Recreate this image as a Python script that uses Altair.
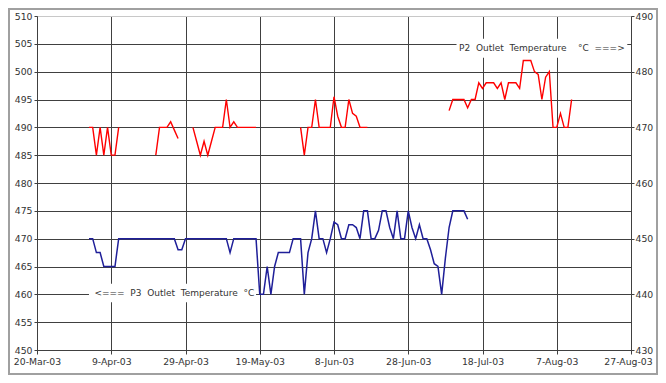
import altair as alt
import pandas as pd

# ---------------- data ----------------
tick_dates = ["2003-03-20", "2003-04-09", "2003-04-29", "2003-05-19", "2003-06-08",
              "2003-06-28", "2003-07-18", "2003-08-07", "2003-08-27"]
left_ticks = [450, 455, 460, 465, 470, 475, 480, 485, 490, 495, 500, 505, 510]
right_ticks = [430, 440, 450, 460, 470, 480, 490]

# P3 outlet temperature (left axis), daily from 3-Apr-03
p3_start = "2003-04-03"
p3_values = [
    470, 470, 467.5, 467.5, 465, 465, 465, 465, 470, 470,
    470, 470, 470, 470, 470, 470, 470, 470, 470, 470,
    470, 470, 470, 470, 468, 468, 470, 470, 470, 470,
    470, 470, 470, 470, 470, 470, 470, 470, 467.5, 470,
    470, 470, 470, 470, 470, 470, 460, 460, 465, 460,
    465, 467.5, 467.5, 467.5, 467.5, 470, 470, 470, 460, 467.5,
    470, 475, 470, 470, 467.5, 470, 473, 472.5, 470, 470,
    472.5, 472.5, 472, 470, 475, 475, 470, 470, 471.5, 475,
    475, 472, 470, 475, 470, 470, 475, 472, 470, 472.5,
    470, 470, 468, 465.5, 465, 460, 466.5, 472, 475, 475,
    475, 475, 473.5,
]

# P2 outlet temperature (right axis), daily segments
p2_starts = ["2003-04-03", "2003-04-21", "2003-05-01", "2003-05-30", "2003-07-09"]
p2_seg1 = [470, 470, 465, 470, 465, 470, 465, 465, 470]
p2_seg2 = [465, 470, 470, 470, 471, 469.5, 468]
p2_seg3 = [470, 467.5, 465, 467.5, 465, 467.5, 470, 470, 470, 475, 470, 471,
           470, 470, 470, 470, 470, 470]
p2_seg4 = [470, 465, 470, 470, 475, 470, 470, 470, 470, 475.5, 472, 470, 470,
           475, 472.5, 472, 470, 470, 470]
p2_seg5 = [473, 475, 475, 475, 475, 473.5, 475, 475, 478, 477, 478, 478, 478,
           477, 478, 475, 478, 478, 478, 477, 482, 482, 482, 480, 479.5, 475,
           479, 480, 470, 470, 472.5, 470, 470, 475]
p2_segments = [p2_seg1, p2_seg2, p2_seg3, p2_seg4, p2_seg5]

# annotations
p2_label = "P2\u00a0\u00a0Outlet\u00a0\u00a0Temperature\u00a0\u00a0\u00a0\u00a0\u00b0C\u00a0\u00a0===>"
p3_label = "<===\u00a0\u00a0P3\u00a0\u00a0Outlet\u00a0\u00a0Temperature\u00a0\u00a0\u00b0C"


def seg_frame(start, values, seg):
    dates = pd.date_range(start, periods=len(values), freq="D").strftime("%Y-%m-%d")
    return pd.DataFrame({"date": list(dates), "value": values, "seg": seg})


p3_df = seg_frame(p3_start, p3_values, 0)
p2_df = pd.concat([seg_frame(s, v, i) for i, (s, v) in enumerate(zip(p2_starts, p2_segments))],
                  ignore_index=True)

tick_ms = [int(pd.Timestamp(d).value // 10**6) for d in tick_dates]

box_df = pd.DataFrame({
    "x1": ["2003-07-11", "2003-04-03"],
    "x2": ["2003-08-26", "2003-05-18"],
    "y1": [505.9, 461.9],
    "y2": [502.5, 458.6],
})
text_df = pd.DataFrame({
    "date": ["2003-08-03", "2003-04-26"],
    "value": [504.3, 460.2],
    "label": [p2_label, p3_label],
})

# ---------------- style ----------------
FONT = "DejaVu Sans"
GRID = "#404040"
LABEL = "#333333"
W, H = 594, 334

x_scale = alt.Scale(type="utc", domain=[tick_ms[0], tick_ms[-1]])
x_axis = alt.Axis(
    values=tick_ms, labelExpr="utcFormat(datum.value, '%-d-%b-%y')", title="",
    grid=True, gridColor=GRID, gridWidth=1,
    domainColor=GRID, tickColor=GRID, tickSize=4,
    labelFont=FONT, labelFontSize=9.3, labelColor=LABEL, labelPadding=3,
    labelFlush=False, labelOverlap=False,
    labelOffset={"condition": {"test": f"datum.value >= {tick_ms[-1]}", "value": -3}, "value": 0},
)
left_scale = alt.Scale(domain=[450, 510], nice=False, zero=False)
left_axis = alt.Axis(
    values=left_ticks, title="", grid=True,
    gridColor={"condition": {"test": "datum.value >= 510", "value": "#c8c8c8"}, "value": GRID},
    gridWidth=1, domainColor=GRID, tickColor=GRID, tickSize=3,
    labelFont=FONT, labelFontSize=9.3, labelColor=LABEL, labelPadding=2,
)
right_scale = alt.Scale(domain=[430, 490], nice=False, zero=False)
right_axis = alt.Axis(
    orient="right", values=right_ticks, title="", grid=False,
    domainColor=GRID, tickColor=GRID, tickSize=3,
    labelFont=FONT, labelFontSize=9.3, labelColor=LABEL, labelPadding=1,
)

X = alt.X("date:T", scale=x_scale, axis=x_axis)

frame = alt.Chart(pd.DataFrame({"k": [0]})).mark_rect(
    filled=False, stroke="#a0a0a0", strokeWidth=2
).encode(x=alt.value(-28), x2=alt.value(W + 26), y=alt.value(-7), y2=alt.value(H + 24))

boxes = alt.Chart(box_df).mark_rect(color="white").encode(
    x=alt.X("x1:T", scale=x_scale, axis=x_axis),
    x2="x2:T",
    y=alt.Y("y1:Q", scale=left_scale, axis=left_axis),
    y2="y2:Q",
)

texts = alt.Chart(text_df).mark_text(
    font=FONT, fontSize=9, color=LABEL, align="center", baseline="middle"
).encode(
    x=X,
    y=alt.Y("value:Q", scale=left_scale, axis=left_axis),
    text="label:N",
)

p3_line = alt.Chart(p3_df).mark_line(color="#1f1f99", strokeWidth=1.5).encode(
    x=X,
    y=alt.Y("value:Q", scale=left_scale, axis=left_axis),
)

left_group = alt.layer(frame, boxes, texts, p3_line)

p2_line = alt.Chart(p2_df).mark_line(color="#ff0000", strokeWidth=1.4).encode(
    x=X,
    y=alt.Y("value:Q", scale=right_scale, axis=right_axis),
    detail="seg:N",
)

chart = alt.layer(left_group, p2_line).resolve_scale(y="independent").properties(
    width=W, height=H,
    autosize=alt.AutoSizeParams(type="none"),
    padding={"left": 29, "top": 8, "right": 27, "bottom": 25},
    background="white",
).configure_view(strokeWidth=0)

chart.save("out.html", embed_options={"renderer": "svg", "actions": False})
